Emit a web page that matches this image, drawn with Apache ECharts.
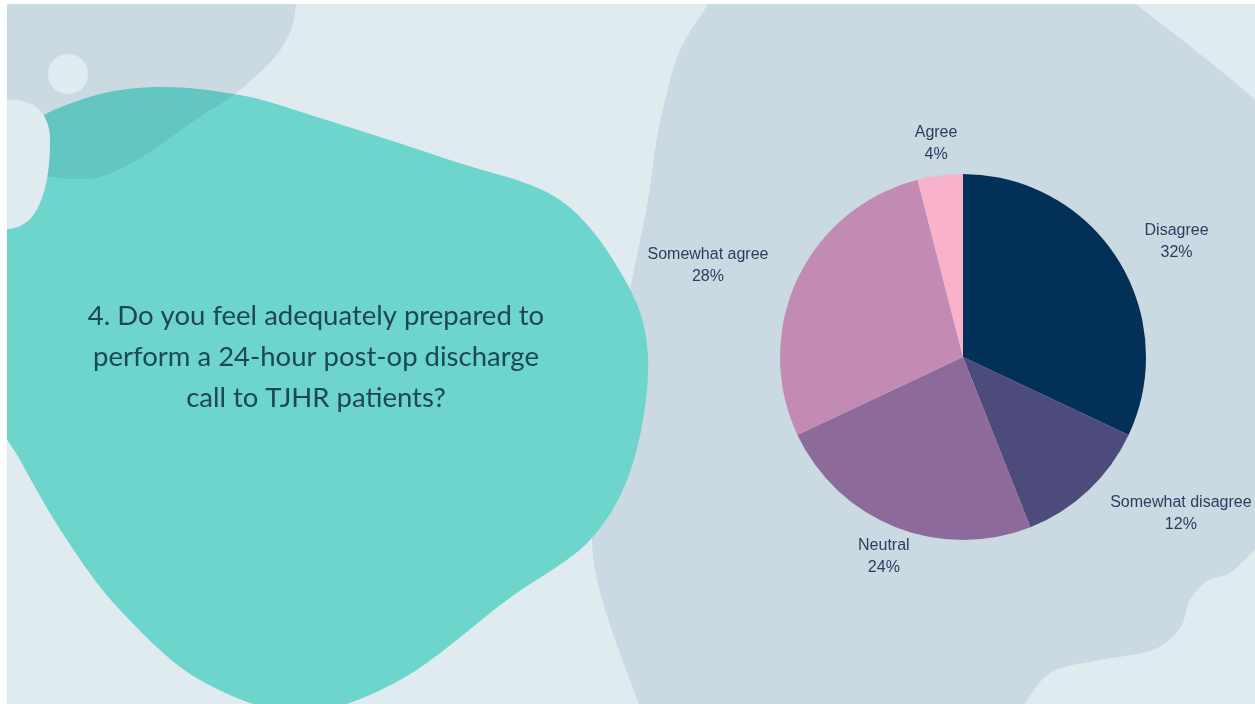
<!DOCTYPE html>
<html>
<head>
<meta charset="utf-8">
<script src="https://cdn.jsdelivr.net/npm/echarts@6/dist/echarts.min.js"></script>
<style>
  html, body { margin: 0; padding: 0; background: #ffffff; }
  #chart { width: 1255px; height: 704px; }
</style>
</head>
<body>
<div id="chart"></div>
<script>
// Survey answers, in drawing order (clockwise from 12 o'clock)
const categories = ['Disagree', 'Somewhat disagree', 'Neutral', 'Somewhat agree', 'Agree'];
const shares = [32, 12, 24, 28, 4];
const sliceColors = ['#033057', '#4d4b7c', '#8c6b9b', '#c28bb4', '#f8b2cb'];
const questionLines = [
  '4. Do you feel adequately prepared to',
  'perform a 24-hour post-op discharge',
  'call to TJHR patients?'
];

// Pie geometry
const CX = 963, CY = 357, R = 183;
const LABEL_R = R + 32;

const BG = '#e0ebf0';
const GREY = '#cbd9e2';
const TEAL = '#6dd5cc';
// multiplied over the light backdrop this gives GREY, over teal a deeper teal
const GREY_TINT = 'rgb(231,237,240)';

const total = shares.reduce((a, b) => a + b, 0);
function midAngle(i) {
  let before = 0;
  for (let j = 0; j < i; j++) before += shares[j];
  return (before + shares[i] / 2) / total * Math.PI * 2;
}

// Catmull-Rom outline through a list of points, as cubic segments
function smooth(pts, closed) {
  const n = pts.length;
  const at = (i) => closed ? pts[(i + n) % n] : pts[Math.max(0, Math.min(n - 1, i))];
  let d = '';
  const segs = closed ? n : n - 1;
  for (let i = 0; i < segs; i++) {
    const p0 = at(i - 1), p1 = at(i), p2 = at(i + 1), p3 = at(i + 2);
    const c1 = [p1[0] + (p2[0] - p0[0]) / 6, p1[1] + (p2[1] - p0[1]) / 6];
    const c2 = [p2[0] - (p3[0] - p1[0]) / 6, p2[1] - (p3[1] - p1[1]) / 6];
    d += ' C' + c1.join(',') + ' ' + c2.join(',') + ' ' + p2.join(',');
  }
  return d;
}

// Decorative backdrop shapes, registered as path shapes for the graphic component
const tealPts = [[20,135],[80,100],[155,87],[240,95],[320,118],[450,160],[560,200],[625,280],[648,357],[633,463],[590,540],[507,600],[400,680],[300,712],[200,680],[120,610],[67,540],[20,460],[-20,380],[-20,220]];
const backdrop = {
  teal: 'M20,135' + smooth(tealPts, true) + ' Z',
  greyTopLeft: 'M-20,-20 L296,-20 L296,4' +
    smooth([[296,4],[291,30],[274,58],[235,94],[198,118],[160,145],[128,165],[100,177],[70,179],[45,176]], false) +
    ' L-20,176 Z',
  greyRight: 'M720,-20 L1110,-20' +
    smooth([[1110,-20],[1136,4],[1195,50],[1255,100],[1290,140]], false) +
    ' L1290,760 L660,760' +
    smooth([[660,760],[630,680],[610,625],[596,575],[592,530],[597,460],[612,380],[632,280],[648,200],[655,150],[664,105],[680,50],[708,4],[720,-20]], false) +
    ' Z',
  lightBump: 'M1010,740' +
    smooth([[1010,740],[1025,704],[1052,672],[1100,660],[1153,650],[1180,628],[1190,600],[1207,581],[1230,573],[1255,550],[1290,520]], false) +
    ' L1290,760 Z',
  lightPill: 'M7,100 C30,98 50,110 50,140 C50,170 46,198 32,217 C24,226 14,229 7,229 Z'
};
Object.keys(backdrop).forEach(function (k) {
  echarts.graphic.registerShape(k, echarts.graphic.extendPath(backdrop[k], {}));
});

const chart = echarts.init(document.getElementById('chart'), null, { renderer: 'canvas' });

chart.setOption({
  animation: false,
  backgroundColor: 'transparent',
  title: {
    text: questionLines.join('\n'),
    left: 316,
    top: 296,
    padding: 0,
    textAlign: 'center',
    textStyle: {
      fontFamily: 'Lato',
      fontWeight: 'normal',
      fontSize: 27.5,
      lineHeight: 41,
      color: '#1d4753'
    }
  },
  graphic: {
    elements: [
      { type: 'rect', shape: { x: 0, y: 0, width: 1255, height: 704 }, style: { fill: BG }, silent: true },
      { type: 'greyRight', silent: true, style: { fill: GREY } },
      { type: 'lightBump', silent: true, style: { fill: BG } },
      { type: 'teal', silent: true, style: { fill: TEAL } },
      { type: 'greyTopLeft', silent: true, style: { fill: GREY_TINT, blend: 'multiply' } },
      { type: 'lightPill', silent: true, style: { fill: BG } },
      { type: 'circle', silent: true, shape: { cx: 68, cy: 74, r: 20 }, style: { fill: BG } },
      // white margin along the top and left edges
      { type: 'rect', silent: true, z: 50, shape: { x: 0, y: 0, width: 1255, height: 4 }, style: { fill: '#ffffff' } },
      { type: 'rect', silent: true, z: 50, shape: { x: 0, y: 0, width: 7, height: 704 }, style: { fill: '#ffffff' } }
    ]
  },
  series: [{
    type: 'pie',
    center: [CX, CY],
    radius: R,
    startAngle: 90,
    clockwise: true,
    avoidLabelOverlap: false,
    silent: true,
    itemStyle: { borderWidth: 0 },
    label: {
      show: true,
      position: 'outside',
      formatter: '{b}\n{c}%',
      color: '#2a3f5f',
      fontFamily: 'Liberation Sans',
      fontSize: 16,
      lineHeight: 22
    },
    labelLine: { show: false },
    labelLayout: function (p) {
      const a = midAngle(p.dataIndex);
      const dx = Math.sin(a), dy = -Math.cos(a);
      let x = CX + LABEL_R * dx;
      const y = CY + LABEL_R * dy;
      if (Math.abs(dx) >= 0.5) x += Math.sign(dx) * p.labelRect.width / 2;
      return { x: x, y: y, align: 'center', verticalAlign: 'middle' };
    },
    data: categories.map((name, i) => ({
      name: name,
      value: shares[i],
      itemStyle: { color: sliceColors[i] }
    }))
  }]
});
</script>
</body>
</html>
